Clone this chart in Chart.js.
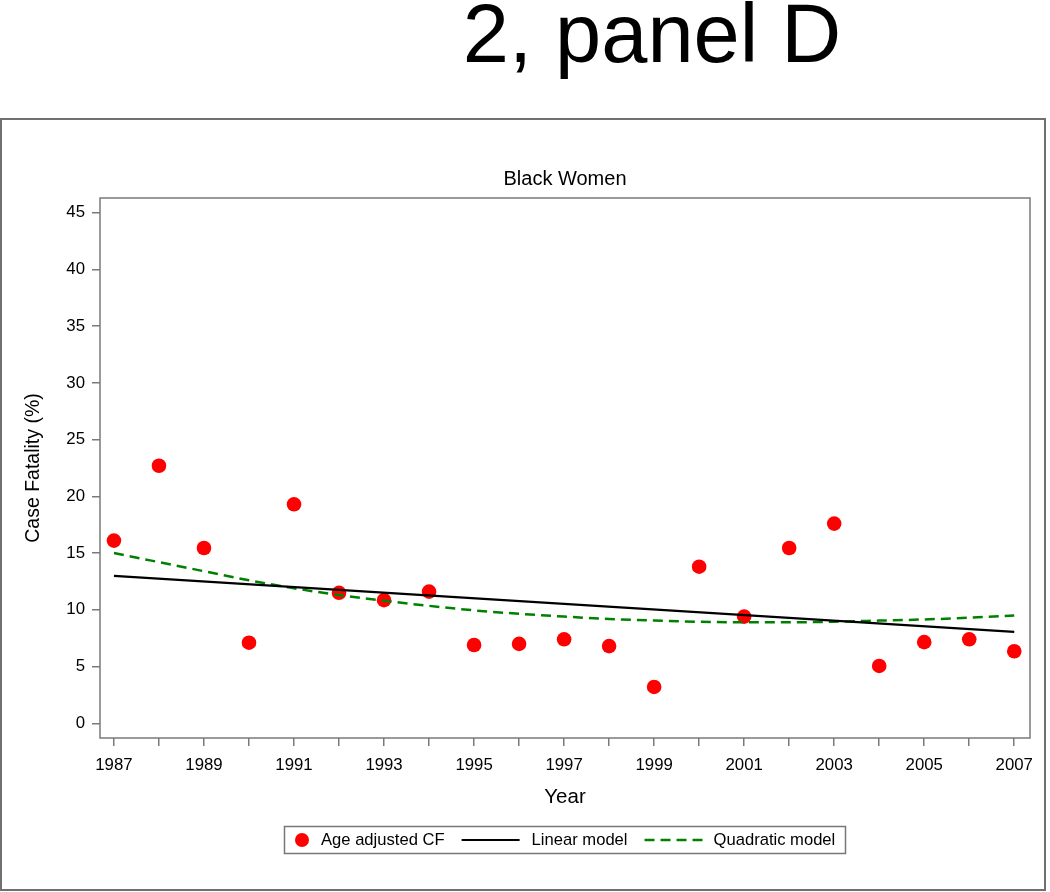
<!DOCTYPE html>
<html><head><meta charset="utf-8">
<script src="https://cdn.jsdelivr.net/npm/chart.js@4"></script>
<style>html,body{margin:0;padding:0;background:#fff}canvas{display:block}</style>
</head><body>
<canvas id="c" width="1050" height="892"></canvas>
<script>
const FONT = '"Liberation Sans", Arial, Helvetica, sans-serif';
const years = [1987,1988,1989,1990,1991,1992,1993,1994,1995,1996,1997,1998,1999,2000,2001,2002,2003,2004,2005,2006,2007];
const caseFatality = [16.1,22.7,15.45,7.1,19.3,11.5,10.85,11.6,6.9,7.0,7.4,6.8,3.2,13.8,9.4,15.45,17.6,5.05,7.15,7.4,6.35];
const linearYears = [1987,2007];
const linearModel = [13.0,8.05];
const quadraticModel = [15.0,14.2,13.4,12.6,11.9,11.3,10.8,10.35,9.95,9.65,9.4,9.2,9.05,8.95,8.9,8.9,8.95,9.05,9.15,9.3,9.5];
const xLabelYears = [1987,1989,1991,1993,1995,1997,1999,2001,2003,2005,2007];
const yTickValues = [0,5,10,15,20,25,30,35,40,45];
const legendLabels = ['Age adjusted CF','Linear model','Quadratic model'];
const mainTitle = '2, panel D';
const panelTitle = 'Black Women';
const xAxisTitle = 'Year';
const yAxisTitle = 'Case Fatality (%)';

const RED = '#ff0000', GREEN = '#008000', BLACK = '#000000', GRAY = '#7a7a7a';

const decor = {
  id: 'decor',
  beforeDraw(chart) {
    const ctx = chart.ctx;
    ctx.save();
    ctx.fillStyle = '#fff';
    ctx.fillRect(0, 0, chart.width, chart.height);
    ctx.strokeStyle = '#707070';
    ctx.lineWidth = 2;
    ctx.strokeRect(1, 119, 1044, 771);
    ctx.fillStyle = '#000';
    ctx.textAlign = 'center';
    ctx.textBaseline = 'alphabetic';
    ctx.font = '83px ' + FONT;
    ctx.fillText(mainTitle, 652, 62);
    const ca = chart.chartArea;
    ctx.font = '20px ' + FONT;
    ctx.fillText(panelTitle, (ca.left + ca.right) / 2, 185);
    ctx.restore();
  },
  afterDatasetsDraw(chart) {
    const ctx = chart.ctx;
    const {left, top, right, bottom} = chart.chartArea;
    ctx.save();
    ctx.strokeStyle = GRAY;
    ctx.lineWidth = 1.5;
    ctx.strokeRect(left, top, right - left, bottom - top);
    ctx.restore();
  },
  afterDraw(chart) {
    const ctx = chart.ctx;
    ctx.save();
    ctx.strokeStyle = '#777';
    ctx.lineWidth = 1.5;
    ctx.strokeRect(284.5, 826.5, 561, 27);
    ctx.font = '16.6px ' + FONT;
    ctx.textBaseline = 'middle';
    ctx.textAlign = 'left';
    const cy = 840;
    let x = 302;
    ctx.fillStyle = RED;
    ctx.beginPath(); ctx.arc(x, cy, 7, 0, Math.PI * 2); ctx.fill();
    ctx.fillStyle = '#000';
    x = 321;
    ctx.fillText(legendLabels[0], x, cy);
    x += ctx.measureText(legendLabels[0]).width + 17;
    ctx.strokeStyle = BLACK; ctx.lineWidth = 2;
    ctx.beginPath(); ctx.moveTo(x, cy); ctx.lineTo(x + 58, cy); ctx.stroke();
    x += 70;
    ctx.fillText(legendLabels[1], x, cy);
    x += ctx.measureText(legendLabels[1]).width + 17;
    ctx.strokeStyle = GREEN; ctx.lineWidth = 2.5; ctx.setLineDash([10, 6]);
    ctx.beginPath(); ctx.moveTo(x, cy); ctx.lineTo(x + 58, cy); ctx.stroke();
    ctx.setLineDash([]);
    x += 69;
    ctx.fillText(legendLabels[2], x, cy);
    ctx.restore();
  }
};

new Chart(document.getElementById('c'), {
  type: 'scatter',
  data: {
    datasets: [
      {
        label: legendLabels[1],
        data: linearYears.map((y, i) => ({x: y, y: linearModel[i]})),
        showLine: true, borderColor: BLACK, borderWidth: 2.3,
        pointRadius: 0, fill: false
      },
      {
        label: legendLabels[2],
        data: years.map((y, i) => ({x: y, y: quadraticModel[i]})),
        showLine: true, borderColor: GREEN, borderWidth: 2.5, borderDash: [10, 6],
        pointRadius: 0, fill: false, tension: 0.4, cubicInterpolationMode: 'monotone'
      },
      {
        label: legendLabels[0],
        data: years.map((y, i) => ({x: y, y: caseFatality[i]})),
        showLine: false, pointRadius: 7.3, pointBackgroundColor: RED,
        pointBorderWidth: 0, backgroundColor: RED, borderColor: RED
      }
    ]
  },
  options: {
    responsive: false,
    animation: false,
    events: [],
    layout: {padding: {top: 198, right: 20, bottom: 60, left: 0}},
    plugins: {legend: {display: false}, tooltip: {enabled: false}, title: {display: false}},
    scales: {
      x: {
        type: 'linear', min: 1986.69, max: 2007.35,
        afterFit(s) { s.height = 94; },
        border: {display: false},
        grid: {drawOnChartArea: false, drawTicks: true, tickLength: 8, color: GRAY, lineWidth: 1.5},
        ticks: {
          stepSize: 1, includeBounds: false, autoSkip: false, maxRotation: 0, minRotation: 0,
          padding: 9, color: '#000', font: {family: FONT, size: 16.8},
          callback: (v) => xLabelYears.includes(v) ? String(v) : ''
        },
        title: {display: true, text: xAxisTitle, color: '#000', font: {family: FONT, size: 20.5}, padding: {top: 0, bottom: 22}}
      },
      y: {
        type: 'linear', min: -1.3, max: 46.3,
        afterFit(s) { s.width = 100; },
        border: {display: false},
        grid: {drawOnChartArea: false, drawTicks: true, tickLength: 8, color: GRAY, lineWidth: 1.5},
        ticks: {
          stepSize: 5, includeBounds: false, padding: 7, color: '#000',
          font: {family: FONT, size: 16.8},
          callback: (v) => yTickValues.includes(v) ? String(v) : ''
        },
        title: {display: true, text: yAxisTitle, color: '#000', font: {family: FONT, size: 19.5}, padding: {top: 22, bottom: 0}}
      }
    }
  },
  plugins: [decor]
});
</script>
</body></html>
